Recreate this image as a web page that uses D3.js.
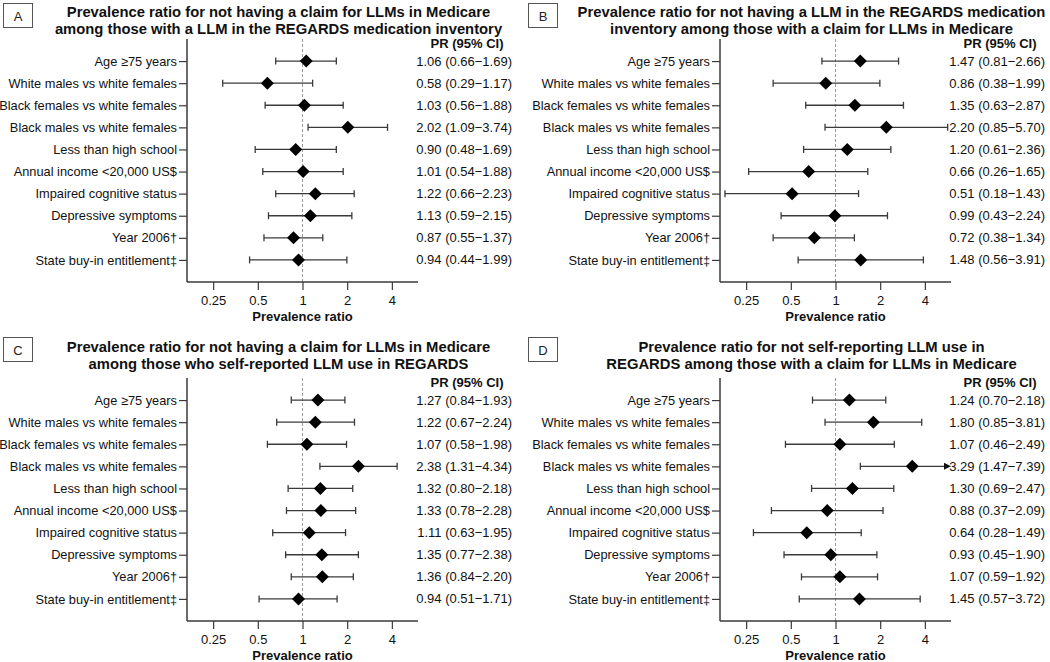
<!DOCTYPE html>
<html><head><meta charset="utf-8">
<script src="https://cdn.jsdelivr.net/npm/d3@7"></script>
<style>
html,body{margin:0;padding:0;background:#fff;}
svg{display:block;font-family:"Liberation Sans",Arial,sans-serif;}
</style></head>
<body>
<svg id="c" width="1050" height="662"></svg>
<script>
const categories = ["Age \u226575 years","White males vs white females","Black females vs white females","Black males vs white females","Less than high school","Annual income <20,000 US$","Impaired cognitive status","Depressive symptoms","Year 2006\u2020","State buy-in entitlement\u2021"];
const xTicks = [0.25, 0.5, 1, 2, 4];
const xTickLabels = ["0.25","0.5","1","2","4"];
const xDomain = [1/6, 6];

const panelLabels = ["A","B","C","D"];
const titles = [
  ["Prevalence ratio for not having a claim for LLMs in Medicare","among those with a LLM in the REGARDS medication inventory"],
  ["Prevalence ratio for not having a LLM in the REGARDS medication","inventory among those with a claim for LLMs in Medicare"],
  ["Prevalence ratio for not having a claim for LLMs in Medicare","among those who self-reported LLM use in REGARDS"],
  ["Prevalence ratio for not self-reporting LLM use in","REGARDS among those with a claim for LLMs in Medicare"]
];

const prA = [1.06,0.58,1.03,2.02,0.90,1.01,1.22,1.13,0.87,0.94];
const loA = [0.66,0.29,0.56,1.09,0.48,0.54,0.66,0.59,0.55,0.44];
const hiA = [1.69,1.17,1.88,3.74,1.69,1.88,2.23,2.15,1.37,1.99];

const prB = [1.47,0.86,1.35,2.20,1.20,0.66,0.51,0.99,0.72,1.48];
const loB = [0.81,0.38,0.63,0.85,0.61,0.26,0.18,0.43,0.38,0.56];
const hiB = [2.66,1.99,2.87,5.70,2.36,1.65,1.43,2.24,1.34,3.91];

const prC = [1.27,1.22,1.07,2.38,1.32,1.33,1.11,1.35,1.36,0.94];
const loC = [0.84,0.67,0.58,1.31,0.80,0.78,0.63,0.77,0.84,0.51];
const hiC = [1.93,2.24,1.98,4.34,2.18,2.28,1.95,2.38,2.20,1.71];

const prD = [1.24,1.80,1.07,3.29,1.30,0.88,0.64,0.93,1.07,1.45];
const loD = [0.70,0.85,0.46,1.47,0.69,0.37,0.28,0.45,0.59,0.57];
const hiD = [2.18,3.81,2.49,7.39,2.47,2.09,1.49,1.90,1.92,3.72];

const panelData = [[prA,loA,hiA],[prB,loB,hiB],[prC,loC,hiC],[prD,loD,hiD]];

const svg = d3.select("#c");
const f2 = d3.format(".2f");
const axisColor = "#3a3a3a";
const barColor = "#3a3a3a";

// panel layout (offsets)
const plotOffX = [0, 533, 0, 533];
const plotOffY = [0, 0, 339, 339];
const titleOffY = [0, 0, 335, 335];
const boxOffX = [0, 525, 0, 525];
const boxOffY = [0, 0, 334, 334];

panelLabels.forEach((lab, p) => {
  const ox = plotOffX[p], oy = plotOffY[p];
  const g = svg.append("g");
  const x = d3.scaleLog().domain(xDomain).range([187 + ox, 418 + ox]);
  const y = d3.scalePoint().domain(categories).range([39 + oy, 282 + oy]).padding(1);
  const [pr, lo, hi] = panelData[p];

  // label box
  g.append("rect").attr("x", 3.5 + boxOffX[p]).attr("y", 3.5 + boxOffY[p])
    .attr("width", 29).attr("height", 24)
    .attr("fill", "#fff").attr("stroke", "#555").attr("stroke-width", 1);
  g.append("text").attr("x", 18 + boxOffX[p]).attr("y", 16 + boxOffY[p])
    .attr("text-anchor", "middle").attr("dominant-baseline", "central")
    .attr("font-size", 13).attr("fill", "#222").text(lab);

  // title
  const tcx = (x(1) - 24);
  titles[p].forEach((t, i) => {
    g.append("text").attr("x", tcx).attr("y", 11.5 + i * 17.5 + titleOffY[p])
      .attr("text-anchor", "middle").attr("dominant-baseline", "central")
      .attr("font-size", 14.8).attr("font-weight", "bold").attr("fill", "#111").text(t);
  });

  // dashed reference line
  g.append("line").attr("x1", x(1)).attr("x2", x(1))
    .attr("y1", 39 + oy).attr("y2", 282 + oy)
    .attr("stroke", "#9a9a9a").attr("stroke-width", 1).attr("stroke-dasharray", "3,2");

  // y axis
  const yAxis = d3.axisLeft(y).tickSize(8).tickPadding(2);
  const ya = g.append("g").attr("transform", `translate(${187 + ox},0)`).call(yAxis);
  ya.select(".domain").attr("d", `M0,${39 + oy}V${282 + oy}`).attr("stroke", axisColor).attr("stroke-width", 1.5);
  ya.selectAll(".tick line").attr("stroke", axisColor).attr("stroke-width", 1.2);
  ya.selectAll(".tick text").attr("font-size", 12.8).attr("fill", "#111")
    .attr("font-family", "Liberation Sans, Arial, sans-serif");

  // x axis
  const xAxis = d3.axisBottom(x).tickValues(xTicks).tickFormat((d, i) => xTickLabels[i]).tickSize(8).tickPadding(6);
  const xa = g.append("g").attr("transform", `translate(0,${282 + oy})`).call(xAxis);
  xa.select(".domain").attr("d", `M${187 + ox},0H${418 + ox}`).attr("stroke", axisColor).attr("stroke-width", 1.5);
  xa.selectAll(".tick line").attr("stroke", axisColor).attr("stroke-width", 1.2);
  xa.selectAll(".tick text").attr("font-size", 13).attr("fill", "#111")
    .attr("font-family", "Liberation Sans, Arial, sans-serif");

  g.append("text").attr("x", x(1)).attr("y", 316 + oy)
    .attr("text-anchor", "middle").attr("dominant-baseline", "central")
    .attr("font-size", 13).attr("font-weight", "bold").attr("fill", "#111").text("Prevalence ratio");

  // header
  g.append("text").attr("x", 467 + ox).attr("y", 43.5 + oy)
    .attr("text-anchor", "middle").attr("dominant-baseline", "central")
    .attr("font-size", 13).attr("font-weight", "bold").attr("fill", "#111").text("PR (95% CI)");

  const xMax = x.range()[1];
  categories.forEach((c, i) => {
    const yy = y(c);
    const clipped = hi[i] > xDomain[1];
    const xl = x(lo[i]);
    const xh = clipped ? xMax : x(hi[i]);
    g.append("line").attr("x1", xl).attr("x2", clipped ? xh - 5 : xh).attr("y1", yy).attr("y2", yy)
      .attr("stroke", barColor).attr("stroke-width", 1.3);
    g.append("line").attr("x1", xl).attr("x2", xl).attr("y1", yy - 3.5).attr("y2", yy + 3.5)
      .attr("stroke", barColor).attr("stroke-width", 1.3);
    if (clipped) {
      g.append("path").attr("d", `M${xh},${yy}L${xh - 7},${yy - 3.5}L${xh - 7},${yy + 3.5}Z`).attr("fill", "#111");
    } else {
      g.append("line").attr("x1", xh).attr("x2", xh).attr("y1", yy - 3.5).attr("y2", yy + 3.5)
        .attr("stroke", barColor).attr("stroke-width", 1.3);
    }
    const xp = x(pr[i]);
    g.append("path").attr("d", `M${xp},${yy - 6.5}L${xp + 6.5},${yy}L${xp},${yy + 6.5}L${xp - 6.5},${yy}Z`).attr("fill", "#000");

    g.append("text").attr("x", 512 + ox).attr("y", yy)
      .attr("text-anchor", "end").attr("dominant-baseline", "central")
      .attr("font-size", 13).attr("fill", "#111")
      .text(`${f2(pr[i])} (${f2(lo[i])}\u2212${f2(hi[i])})`);
  });
});
</script>
</body></html>
